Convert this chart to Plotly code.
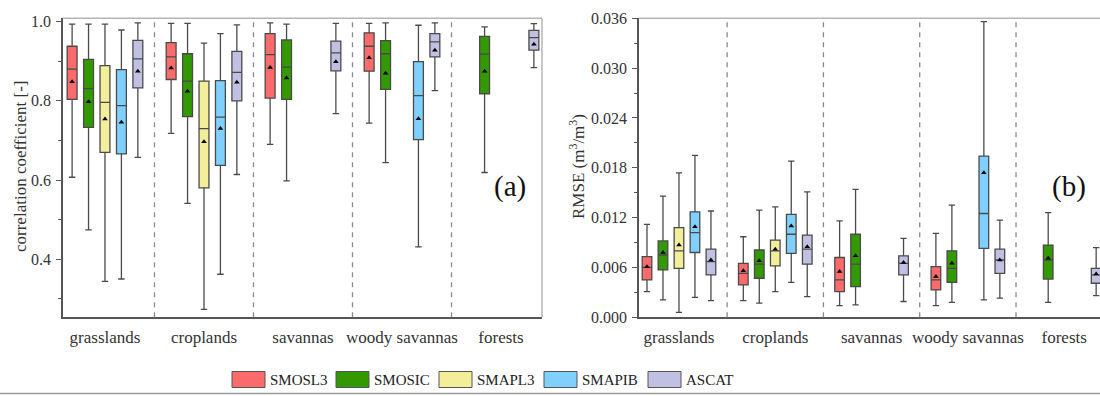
import plotly.graph_objects as go

categories = ["grasslands", "croplands", "savannas", "woody savannas", "forests"]
series = ["SMOSL3", "SMOSIC", "SMAPL3", "SMAPIB", "ASCAT"]
colors = ["#FB6B6B", "#339900", "#F2EE99", "#80D0FF", "#C0C0E2"]

# panel (a): correlation coefficient  (rows = series, cols = categories)
R_LOW = [[0.607, 0.718, 0.690, 0.744, None],
         [0.474, 0.541, 0.598, 0.644, 0.619],
         [0.344, 0.273, None, None, None],
         [0.350, 0.362, None, 0.431, None],
         [0.657, 0.614, 0.768, 0.826, 0.884]]
R_Q1 = [[0.804, 0.854, 0.807, 0.875, None],
        [0.733, 0.760, 0.804, 0.829, 0.818],
        [0.670, 0.580, None, None, None],
        [0.666, 0.637, None, 0.702, None],
        [0.833, 0.800, 0.876, 0.911, 0.928]]
R_MED = [[0.880, 0.911, 0.917, 0.938, None],
         [0.831, 0.850, 0.885, 0.919, 0.918],
         [0.796, 0.730, None, None, None],
         [0.788, 0.759, None, 0.813, None],
         [0.906, 0.872, 0.921, 0.949, 0.960]]
R_Q3 = [[0.938, 0.947, 0.970, 0.972, None],
        [0.905, 0.919, 0.954, 0.952, 0.963],
        [0.889, 0.850, None, None, None],
        [0.879, 0.851, None, 0.899, None],
        [0.953, 0.925, 0.951, 0.970, 0.978]]
R_HIGH = [[0.994, 0.996, 0.997, 0.996, None],
          [0.994, 0.996, 0.994, 0.997, 0.987],
          [0.994, 0.946, None, None, None],
          [0.979, 0.970, None, 0.991, None],
          [0.997, 0.992, 0.996, 0.997, 0.995]]
R_MEAN = [[0.848, 0.883, 0.884, 0.909, None],
          [0.798, 0.824, 0.858, 0.870, 0.875],
          [0.754, 0.697, None, None, None],
          [0.746, 0.730, None, 0.755, None],
          [0.875, 0.847, 0.899, 0.928, 0.943]]

# panel (b): RMSE (m3/m3)
E_LOW = [[0.0031, 0.0020, 0.0014, 0.0014, None],
         [0.0021, 0.0017, 0.0015, 0.0018, 0.0018],
         [0.0006, 0.0031, None, None, None],
         [0.0024, 0.0042, None, 0.0021, None],
         [0.0020, 0.0025, 0.0019, 0.0023, 0.0026]]
E_Q1 = [[0.0045, 0.0039, 0.0031, 0.0033, None],
        [0.0057, 0.0047, 0.0037, 0.0042, 0.0046],
        [0.0059, 0.0062, None, None, None],
        [0.0078, 0.0077, None, 0.0083, None],
        [0.0051, 0.0064, 0.0051, 0.0053, 0.0041]]
E_MED = [[0.0060, 0.0053, 0.0045, 0.0045, None],
         [0.0075, 0.0064, 0.0064, 0.0059, 0.0069],
         [0.0080, 0.0080, None, None, None],
         [0.0102, 0.0100, None, 0.0125, None],
         [0.0067, 0.0082, 0.0065, 0.0069, 0.0051]]
E_Q3 = [[0.0073, 0.0065, 0.0072, 0.0061, None],
        [0.0092, 0.0081, 0.0100, 0.0080, 0.0087],
        [0.0108, 0.0093, None, None, None],
        [0.0127, 0.0124, None, 0.0194, None],
        [0.0082, 0.0099, 0.0074, 0.0082, 0.0059]]
E_HIGH = [[0.0112, 0.0097, 0.0116, 0.0101, None],
          [0.0146, 0.0129, 0.0154, 0.0135, 0.0126],
          [0.0174, 0.0133, None, None, None],
          [0.0195, 0.0188, None, 0.0356, None],
          [0.0128, 0.0151, 0.0095, 0.0117, 0.0084]]
E_MEAN = [[0.0061, 0.0056, 0.0055, 0.0049, None],
          [0.0078, 0.0068, 0.0074, 0.0065, 0.0071],
          [0.0087, 0.0082, None, None, None],
          [0.0109, 0.0110, None, 0.0174, None],
          [0.0069, 0.0085, 0.0066, 0.0069, 0.0052]]

W, H = 1100, 396
FONT = "Liberation Serif"
OFFSET = 0.166
BOXW = 0.1

fig = go.Figure()


def add_panel(low, q1, med, q3, high, mean, xa, ya):
    for s in range(len(series)):
        idx = [c for c in range(len(categories)) if med[s][c] is not None]
        xs = [c + (s - 2) * OFFSET for c in idx]
        fig.add_trace(go.Box(
            x=xs,
            q1=[q1[s][c] for c in idx], median=[med[s][c] for c in idx],
            q3=[q3[s][c] for c in idx], lowerfence=[low[s][c] for c in idx],
            upperfence=[high[s][c] for c in idx],
            width=BOXW, whiskerwidth=0.65, boxpoints=False,
            fillcolor=colors[s], line=dict(color="#4a4a4a", width=1.3),
            xaxis=xa, yaxis=ya, showlegend=False, hoverinfo="skip"))
        fig.add_trace(go.Scatter(
            x=xs, y=[mean[s][c] for c in idx], mode="markers",
            marker=dict(symbol="triangle-up", size=5, color="black"),
            xaxis=xa, yaxis=ya, showlegend=False, hoverinfo="skip"))


add_panel(R_LOW, R_Q1, R_MED, R_Q3, R_HIGH, R_MEAN, "x", "y")
add_panel(E_LOW, E_Q1, E_MED, E_Q3, E_HIGH, E_MEAN, "x2", "y2")

ydom = [(H - 317.3) / H, (H - 18.3) / H]
xcommon = dict(tickvals=list(range(len(categories))), ticktext=categories,
               ticks="outside", ticklen=4, tickcolor="rgba(0,0,0,0)",
               showgrid=False, zeroline=False, showline=True, automargin=False,
               linecolor="#555", linewidth=1.5,
               tickfont=dict(family=FONT, size=17, color="#333"))
ycommon = dict(showgrid=False, zeroline=False, showline=True, automargin=False,
               linecolor="#555", linewidth=1.5, ticks="outside", ticklen=5,
               tickcolor="#555", domain=ydom, ticklabelstandoff=2,
               tickfont=dict(family=FONT, size=16, color="#333"))

fig.update_layout(
    width=W, height=H, autosize=False,
    margin=dict(l=0, r=0, t=0, b=0, pad=0, autoexpand=False),
    paper_bgcolor="white", plot_bgcolor="white", boxmode="overlay",
    showlegend=False,
    xaxis=dict(domain=[63 / W, 542 / W], range=[-0.424, 4.414], anchor="y", **xcommon),
    xaxis2=dict(domain=[639 / W, 1.0], range=[-0.415, 4.372], anchor="y2", **xcommon),
    yaxis=dict(range=[0.2532, 1.0086], tick0=0, dtick=0.2, tickformat=".1f",
               minor=dict(dtick=0.1, ticks="outside", ticklen=3, tickcolor="#555"),
               anchor="x", **ycommon),
    yaxis2=dict(range=[0, 0.036], tick0=0, dtick=0.006, tickformat=".3f",
                minor=dict(dtick=0.003, ticks="outside", ticklen=3, tickcolor="#555"),
                anchor="x2", **ycommon),
)

shapes = []
# category separators
for xa, ya in (("x", "y"), ("x2", "y2")):
    for b in range(1, len(categories)):
        shapes.append(dict(type="line", xref=xa, yref=ya + " domain",
                           x0=b - 0.5, x1=b - 0.5, y0=0, y1=1,
                           line=dict(color="#8a8a8a", width=1.3, dash="5px,5px")))
# frame (top / right)
shapes.append(dict(type="line", xref="x domain", yref="y domain", x0=0, x1=1, y0=1, y1=1,
                   line=dict(color="#b5b5b5", width=1.5)))
shapes.append(dict(type="line", xref="x domain", yref="y domain", x0=1, x1=1, y0=0, y1=1,
                   line=dict(color="#b5b5b5", width=1.5)))
shapes.append(dict(type="line", xref="x2 domain", yref="y2 domain", x0=0, x1=1, y0=1, y1=1,
                   line=dict(color="#b5b5b5", width=1.5)))
# bottom rule
shapes.append(dict(type="line", xref="paper", yref="paper", x0=0, x1=1,
                   y0=(H - 393.5) / H, y1=(H - 393.5) / H,
                   line=dict(color="#9a9a9a", width=1.5)))

annotations = [
    dict(text="correlation coefficient [-]", x=20 / W, y=(H - 167) / H, xref="paper", yref="paper",
         xanchor="center", yanchor="middle",
         textangle=-90, showarrow=False, font=dict(family=FONT, size=17, color="#333")),
    dict(text="RMSE (m<sup>3</sup>/m<sup>3</sup>)", x=577 / W, y=(H - 167) / H, xref="paper", yref="paper",
         xanchor="center", yanchor="middle",
         textangle=-90, showarrow=False, font=dict(family=FONT, size=17, color="#333")),
    dict(text="(a)", x=510 / W, y=(H - 186) / H, xref="paper", yref="paper",
         xanchor="center", yanchor="middle",
         showarrow=False, font=dict(family=FONT, size=29, color="#111")),
    dict(text="(b)", x=1069 / W, y=(H - 186) / H, xref="paper", yref="paper",
         xanchor="center", yanchor="middle",
         showarrow=False, font=dict(family=FONT, size=29, color="#111")),
]

# legend (manual swatches)
leg_x = [232, 336, 439, 544, 648]
for s, name in enumerate(series):
    x0 = leg_x[s]
    shapes.append(dict(type="rect", xref="paper", yref="paper",
                       x0=x0 / W, x1=(x0 + 33) / W, y0=(H - 387.5) / H, y1=(H - 371.5) / H,
                       fillcolor=colors[s], line=dict(color="#555", width=1)))
    annotations.append(dict(text=name, x=(x0 + 36) / W, y=(H - 379.5) / H,
                            xref="paper", yref="paper", xanchor="left", yanchor="middle",
                            showarrow=False, font=dict(family=FONT, size=15, color="#222")))

fig.update_layout(shapes=shapes, annotations=annotations)
fig.write_html("out.html")
